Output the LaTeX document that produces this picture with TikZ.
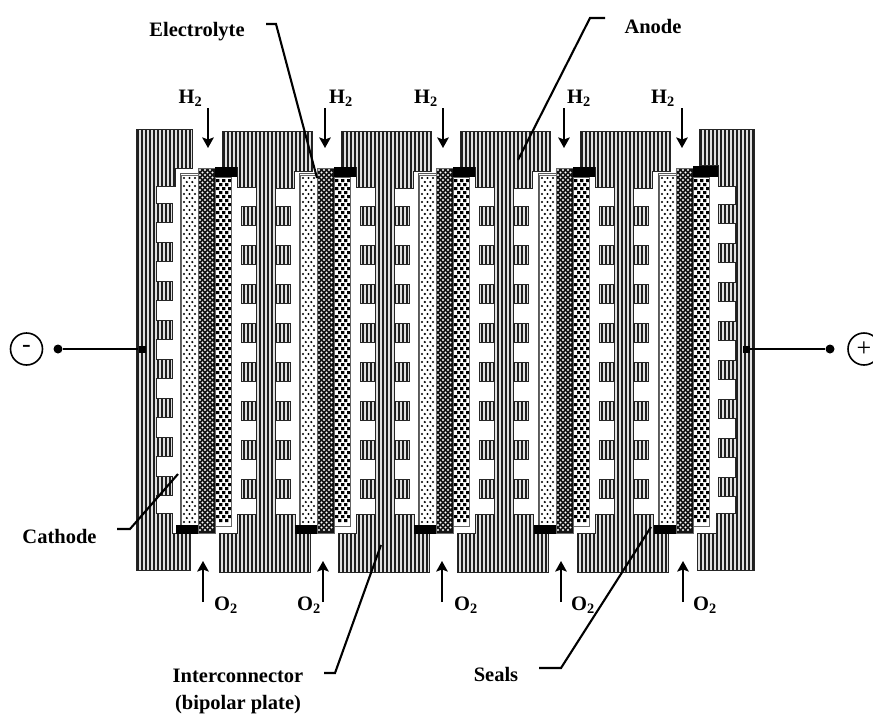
\documentclass[tikz,border=0pt]{standalone}
\usepackage{fontspec}
\setmainfont{Liberation Serif}
\usetikzlibrary{arrows.meta}
\tikzset{
  plate/.style={draw=black!85,line width=1pt},
  platebase/.style={fill=black!12},
  stripe/.style={line width=2pt,black!88},
  frameline/.style={draw=black!65,fill=white,line width=0.9pt},
  layeredge/.style={draw=black!60,line width=0.6pt},
  sealblock/.style={fill=black,draw=none},
  gasarrow/.style={-{Stealth[width=11.5pt,length=10.5pt,inset=2pt]},line width=2.1pt,black},
  leader/.style={line width=2.1pt,black},
  lbl/.style={font=\fontsize{20.5}{27}\selectfont\bfseries,inner sep=0pt,align=center},
  gas/.style={font=\fontsize{20.5}{24}\selectfont\bfseries,inner sep=0pt},
  sign/.style={circle,draw=black,line width=1.6pt,minimum size=32pt,inner sep=0pt,font=\fontsize{26}{26}\selectfont},
  term/.style={circle,fill=black,draw=none,minimum size=9pt,inner sep=0pt},
  termsq/.style={rectangle,fill=black,draw=none,minimum size=7pt,inner sep=0pt}
}
\def\leftplate{(136,129) -- (192,129) -- (192,168) -- (175,168) -- (175,186) -- (156,186)
  \foreach \k [evaluate=\k as \yy using 203+39*\k] in {0,...,7}{
    -- (156,\yy) -- (172,\yy) -- (172,\yy+19) -- (156,\yy+19) }
  -- (156,513) -- (172,513) -- (172,533) -- (190,533) -- (190,570) -- (136,570) -- cycle}
\def\midplate{(222,131) -- (312,131) -- (312,171) -- (294,171) -- (294,188) -- (275,188)
  \foreach \k [evaluate=\k as \yy using 206+39*\k] in {0,...,7}{
    -- (275,\yy) -- (290,\yy) -- (290,\yy+19) -- (275,\yy+19) }
  -- (275,514) -- (295,514) -- (295,533) -- (310,533) -- (310,572) -- (219,572) -- (219,533)
  -- (237,533) -- (237,514) -- (256,514)
  \foreach \k [evaluate=\k as \yy using 206+39*(7-\k)] in {0,...,7}{
    -- (256,\yy+19) -- (241,\yy+19) -- (241,\yy) -- (256,\yy) }
  -- (256,187) -- (237,187) -- (237,167) -- (222,167) -- cycle}
\def\rightplate{(699,129) -- (754,129) -- (754,570) -- (697,570) -- (697,533) -- (716,533) -- (716,513) -- (735,513)
  \foreach \k [evaluate=\k as \yy using 204+39*(7-\k)] in {0,...,7}{
    -- (735,\yy+19) -- (718,\yy+19) -- (718,\yy) -- (735,\yy) }
  -- (735,186) -- (718,186) -- (718,165) -- (699,165) -- cycle}
\begin{document}
\begin{tikzpicture}[x=1pt,y=-1pt]
\useasboundingbox[fill=white] (0,0) rectangle (873,715);
% left end plate
\begin{scope}
\clip \leftplate;
\fill[platebase] (130,120) rectangle (200,580);
\foreach \x in {138,142,...,194}{\draw[stripe] (\x,120) -- (\x,580);}
\end{scope}
\draw[plate] \leftplate;
% interconnectors
\foreach \s in {0,119,238,358}{
\begin{scope}[xshift=\s pt]
\begin{scope}
\clip \midplate;
\fill[platebase] (215,125) rectangle (315,580);
\foreach \x in {220,224,...,312}{\draw[stripe] (\x,125) -- (\x,580);}
\end{scope}
\draw[plate] \midplate;
\end{scope}}
% right end plate
\begin{scope}
\clip \rightplate;
\fill[platebase] (690,120) rectangle (760,580);
\foreach \x in {697,701,...,755}{\draw[stripe] (\x,120) -- (\x,580);}
\end{scope}
\draw[plate] \rightplate;
% membrane electrode assemblies
\foreach \s in {0,119,238,358,478}{
\begin{scope}[xshift=\s pt]
\draw[frameline] (180,173) rectangle (198,526);
% cathode layer
\fill[black] \foreach \yy in {178,186,...,522}{\foreach \xx in {184,189.5,195}{(\xx,\yy) circle[radius=1.2]}};
\fill[black] \foreach \yy in {182,190,...,522}{\foreach \xx in {186.8,192.3}{(\xx,\yy) circle[radius=1.2]}};
\draw[layeredge] (181,175) rectangle (198,525);
% electrolyte layer
\fill[black!92] (198,168) rectangle (215,533);
\fill[white] \foreach \yy in {170,175,...,531}{\foreach \xx in {200,205,210}{(\xx,\yy) circle[radius=1.15]}};
\fill[white] \foreach \yy in {172.5,177.5,...,531}{\foreach \xx in {202.5,207.5,212.5}{(\xx,\yy) circle[radius=1.15]}};
\draw[layeredge] (198,168) rectangle (215,533);
% anode layer
\fill[white] (215,177) rectangle (231,526);
\fill[black] \foreach \yy in {179,187,...,522}{\foreach \xx in {216.2,222.2,228}{(\xx,\yy) rectangle ++(3.2,3.2)}};
\fill[black] \foreach \yy in {183,191,...,522}{\foreach \xx in {219.2,225.2}{(\xx,\yy) rectangle ++(3.2,3.2)}};
\draw[layeredge] (215,177) rectangle (231,526);
\fill[sealblock] (176,525) rectangle (198,534);
\end{scope}}
\foreach \s in {0,119,238,358}{
\fill[sealblock,xshift=\s pt] (215,167) rectangle (237,177);}
\fill[sealblock] (693,166) rectangle (718,177);
% gas arrows
\foreach \n/\x in {a/208,b/325,c/443,d/564,e/682}{
  \coordinate (h\n s) at (\x,108); \coordinate (h\n e) at (\x,148);
  \draw[gasarrow] (h\n s) -- (h\n e);}
\foreach \n/\x in {a/203,b/323,c/442,d/561,e/683}{
  \coordinate (o\n s) at (\x,602); \coordinate (o\n e) at (\x,561);
  \draw[gasarrow] (o\n s) -- (o\n e);}
\node[gas] (h1) at (190.5,98) {H\textsubscript{2}};
\node[gas] (h2) at (341,98) {H\textsubscript{2}};
\node[gas] (h3) at (426,98) {H\textsubscript{2}};
\node[gas] (h4) at (579,98) {H\textsubscript{2}};
\node[gas] (h5) at (663,98) {H\textsubscript{2}};
\node[gas] (o1) at (226,605) {O\textsubscript{2}};
\node[gas] (o2) at (309,605) {O\textsubscript{2}};
\node[gas] (o3) at (466,605) {O\textsubscript{2}};
\node[gas] (o4) at (583,605) {O\textsubscript{2}};
\node[gas] (o5) at (705,605) {O\textsubscript{2}};
% labels
\node[lbl] (electrolytelabel) at (197,32) {Electrolyte};
\node[lbl] (anodelabel) at (653,26) {Anode};
\node[lbl] (cathodelabel) at (59.5,536) {Cathode};
\node[lbl] (interlabel) at (238,691) {Interconnector\\(bipolar plate)};
\node[lbl] (sealslabel) at (496,674) {Seals};
% leaders
\coordinate (l1a) at (266,24); \coordinate (l1b) at (276,24); \coordinate (l1c) at (317,178);
\draw[leader] (l1a) -- (l1b) -- (l1c);
\coordinate (l2a) at (605,18); \coordinate (l2b) at (590,18); \coordinate (l2c) at (518,160);
\draw[leader] (l2a) -- (l2b) -- (l2c);
\coordinate (l3a) at (117,529); \coordinate (l3b) at (130,529); \coordinate (l3c) at (178,474);
\draw[leader] (l3a) -- (l3b) -- (l3c);
\coordinate (l4a) at (324,673); \coordinate (l4b) at (335,673); \coordinate (l4c) at (381,545);
\draw[leader] (l4a) -- (l4b) -- (l4c);
\coordinate (l5a) at (539,668); \coordinate (l5b) at (561,668); \coordinate (l5c) at (651,527);
\draw[leader] (l5a) -- (l5b) -- (l5c);
% terminals
\node[sign] (minus) at (26.5,349) {-};
\node[term] (mdot) at (58,349) {};
\node[termsq] (msq) at (142,349) {};
\draw[line width=2pt] (mdot) -- (msq);
\node[sign] (plus) at (864,349) {+};
\node[term] (pdot) at (830,349) {};
\node[termsq] (psq) at (746,349) {};
\draw[line width=2pt] (psq) -- (pdot);
\end{tikzpicture}
\end{document}
